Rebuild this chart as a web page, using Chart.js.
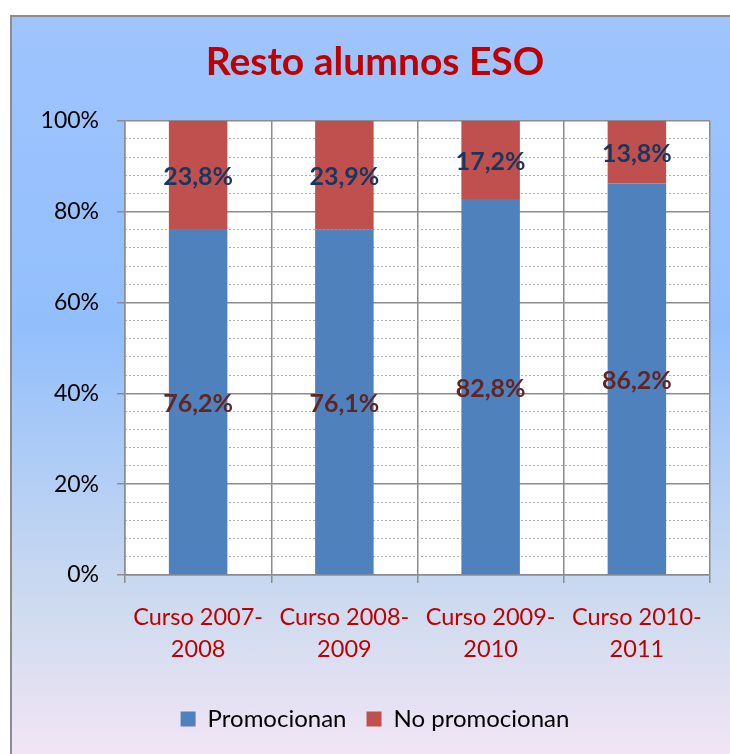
<!DOCTYPE html>
<html>
<head>
<meta charset="utf-8">
<script src="https://cdn.jsdelivr.net/npm/chart.js@4.4.0/dist/chart.umd.min.js"></script>
<style>
  html, body { margin: 0; padding: 0; background: #fff; }
  #wrap { position: relative; width: 730px; height: 754px; overflow: hidden; }
  #bg {
    position: absolute; left: 10px; top: 15px; width: 760px; height: 780px;
    border: 2px solid #8c8c8c;
    background: linear-gradient(to bottom, #9fc4fe 0%, #92bffc 40%, #cfdbef 76%, #fbe8f7 100%);
  }
  #chart { position: absolute; left: 0; top: 0; }
</style>
</head>
<body>
<div id="wrap">
  <div id="bg"></div>
  <canvas id="chart" width="730" height="754"></canvas>
</div>
<script>
// data
const categories = [
    ['Curso 2007-', '2008'],
    ['Curso 2008-', '2009'],
    ['Curso 2009-', '2010'],
    ['Curso 2010-', '2011']
];
const promocionan = [76.2, 76.1, 82.8, 86.2];
const noPromocionan = [23.8, 23.9, 17.2, 13.8];
const seriesNames = ['Promocionan', 'No promocionan'];

const font = 'Lato, "Open Sans", sans-serif';

// white plot area behind the grid
const plotBackground = {
    id: 'plotBackground',
    beforeDraw(chart) {
        const {ctx, chartArea} = chart;
        ctx.save();
        ctx.fillStyle = '#ffffff';
        ctx.fillRect(chartArea.left, chartArea.top, chartArea.right - chartArea.left, chartArea.bottom - chartArea.top);
        ctx.restore();
    }
};

// value labels centred in each bar segment
const segmentLabels = {
    id: 'segmentLabels',
    afterDatasetsDraw(chart) {
        const ctx = chart.ctx;
        ctx.save();
        ctx.font = 'bold 25px ' + font;
        ctx.textAlign = 'center';
        ctx.textBaseline = 'middle';
        chart.data.datasets.forEach((ds, i) => {
            const meta = chart.getDatasetMeta(i);
            ctx.fillStyle = ds.labelColor;
            meta.data.forEach((bar, j) => {
                const text = ds.data[j].toFixed(1).replace('.', ',') + '%';
                ctx.fillText(text, bar.x, (bar.y + bar.base) / 2 + 2);
            });
        });
        ctx.restore();
    }
};

const ctx = document.getElementById('chart').getContext('2d');
new Chart(ctx, {
    type: 'bar',
    data: {
        labels: categories,
        datasets: [{
            label: seriesNames[0],
            data: promocionan,
            yAxisID: 'y',
            backgroundColor: '#4f81bd',
            labelColor: '#632523'
        }, {
            label: seriesNames[1],
            data: noPromocionan,
            yAxisID: 'y',
            backgroundColor: '#c0504d',
            labelColor: '#17375e'
        }]
    },
    plugins: [plotBackground, segmentLabels],
    options: {
        responsive: false,
        animation: false,
        devicePixelRatio: 1,
        categoryPercentage: 1,
        barPercentage: 0.4,
        layout: {padding: {left: 40, right: 20, top: 0, bottom: 13}},
        plugins: {
            title: {
                display: true,
                text: 'Resto alumnos ESO',
                color: '#c00000',
                font: {family: font, size: 39, weight: 'bold'},
                padding: {top: 39, bottom: 35}
            },
            legend: {
                position: 'bottom',
                labels: {
                    color: '#000000',
                    font: {family: font, size: 24},
                    boxWidth: 15,
                    boxHeight: 15,
                    padding: 20
                }
            },
            tooltip: {enabled: false}
        },
        scales: {
            x: {
                stacked: true,
                grid: {color: '#8c8c8c', lineWidth: 1.5, tickLength: 8, tickColor: '#8c8c8c'},
                border: {color: '#8c8c8c', width: 1.5},
                ticks: {
                    color: '#c00000',
                    font: {family: font, size: 23.5, lineHeight: 1.36},
                    padding: 18,
                    maxRotation: 0
                },
                afterFit(scale) { scale.height = 112; }
            },
            y: {
                stacked: true,
                position: 'left',
                min: 0,
                max: 100,
                ticks: {
                    stepSize: 20,
                    color: '#000000',
                    font: {family: font, size: 23},
                    padding: 18,
                    callback: v => v + '%'
                },
                grid: {color: '#8c8c8c', lineWidth: 1.5, tickLength: 8, tickColor: '#8c8c8c'},
                border: {color: '#8c8c8c', width: 1.5},
                afterFit(scale) { scale.width = 85; }
            },
            yMinor: {
                position: 'left',
                min: 0,
                max: 100,
                ticks: {display: false, stepSize: 4},
                grid: {
                    drawTicks: false,
                    lineWidth: 1,
                    color: c => (c.tick && c.tick.value % 20 === 0) ? 'rgba(0,0,0,0)' : '#b0b0b0'
                },
                border: {display: false, dash: [2, 2]},
                afterFit(scale) { scale.width = 0; }
            }
        }
    }
});
</script>
</body>
</html>
